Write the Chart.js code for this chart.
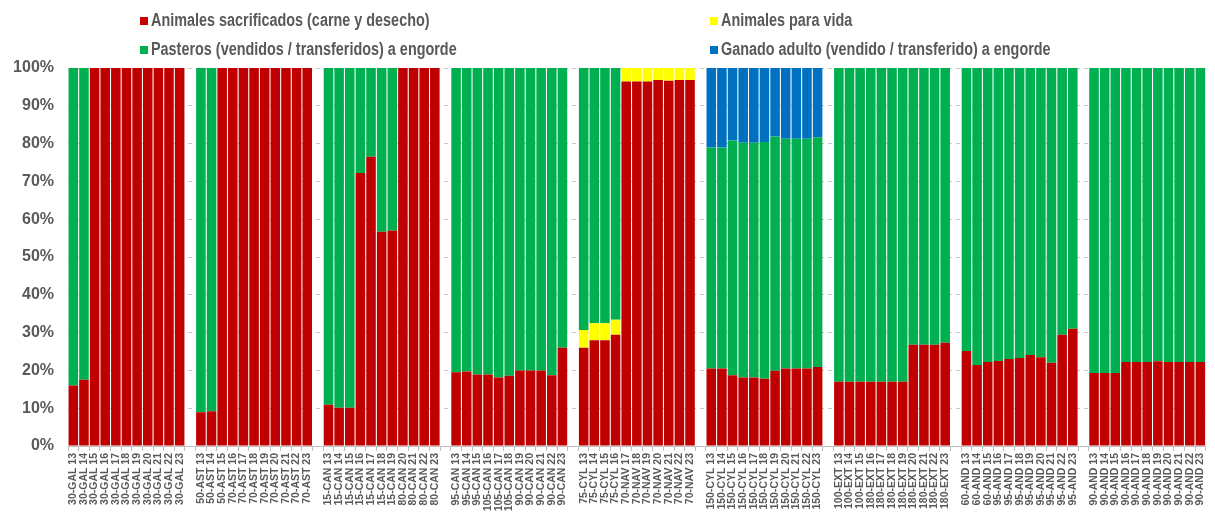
<!DOCTYPE html>
<html>
<head>
<meta charset="utf-8">
<script src="https://cdn.jsdelivr.net/npm/chart.js@4"></script>
<style>
  body { margin: 0; background: #fff; }
  #wrap { position: relative; width: 1215px; height: 518px; }
  .lg-box { position: absolute; width: 8px; height: 8px; }
  .lg-txt { position: absolute; font: bold 18px "Liberation Sans", Arial, sans-serif; line-height: 18px;
            color: #595959; white-space: nowrap; transform: scaleX(0.8); transform-origin: left top; }
</style>
</head>
<body>
<div id="wrap">
  <canvas id="chart"></canvas>
  <div id="legend"></div>
</div>
<script>
// categories ('' = gap between regions)
const categories = [
  "30-GAL 13","30-GAL 14","30-GAL 15","30-GAL 16","30-GAL 17","30-GAL 18","30-GAL 19","30-GAL 20","30-GAL 21","30-GAL 22","30-GAL 23","",
  "50-AST 13","50-AST 14","50-AST 15","70-AST 16","70-AST 17","70-AST 18","70-AST 19","70-AST 20","70-AST 21","70-AST 22","70-AST 23","",
  "15-CAN 13","15-CAN 14","15-CAN 15","15-CAN 16","15-CAN 17","15-CAN 18","15-CAN 19","80-CAN 20","80-CAN 21","80-CAN 22","80-CAN 23","",
  "95-CAN 13","95-CAN 14","95-CAN 15","105-CAN 16","105-CAN 17","105-CAN 18","90-CAN 19","90-CAN 20","90-CAN 21","90-CAN 22","90-CAN 23","",
  "75-CYL 13","75-CYL 14","75-CYL 15","75-CYL 16","70-NAV 17","70-NAV 18","70-NAV 19","70-NAV 20","70-NAV 21","70-NAV 22","70-NAV 23","",
  "150-CYL 13","150-CYL 14","150-CYL 15","150-CYL 16","150-CYL 17","150-CYL 18","150-CYL 19","150-CYL 20","150-CYL 21","150-CYL 22","150-CYL 23","",
  "100-EXT 13","100-EXT 14","100-EXT 15","180-EXT 16","180-EXT 17","180-EXT 18","180-EXT 19","180-EXT 20","180-EXT 21","180-EXT 22","180-EXT 23","",
  "60-AND 13","60-AND 14","60-AND 15","95-AND 16","95-AND 17","95-AND 18","95-AND 19","95-AND 20","95-AND 21","95-AND 22","95-AND 23","",
  "90-AND 13","90-AND 14","90-AND 15","90-AND 16","90-AND 17","90-AND 18","90-AND 19","90-AND 20","90-AND 21","90-AND 22","90-AND 23"
];

// series values (% of total), null in the gaps
const sacrificados = [
  16.0,17.5,100,100,100,100,100,100,100,100,100, null,
  8.9,9.2,100,100,100,100,100,100,100,100,100, null,
  10.9,10.1,10.1,72.2,76.5,56.7,57.0,100,100,100,100, null,
  19.5,19.7,18.9,18.9,18.1,18.6,20.0,20.0,20.0,18.7,26.0, null,
  26.0,28.0,28.0,29.4,96.4,96.4,96.4,96.8,96.6,96.8,96.8, null,
  20.5,20.5,18.7,18.1,18.1,17.8,19.9,20.5,20.5,20.5,20.9, null,
  17.0,17.0,17.0,17.0,17.0,17.0,17.0,26.8,26.8,26.8,27.3, null,
  25.1,21.4,22.2,22.5,23.0,23.3,24.1,23.5,22.0,29.4,31.0, null,
  19.3,19.3,19.3,22.2,22.2,22.2,22.4,22.2,22.2,22.2,22.2
];
const paraVida = [
  0,0,0,0,0,0,0,0,0,0,0, null,
  0,0,0,0,0,0,0,0,0,0,0, null,
  0,0,0,0,0,0,0,0,0,0,0, null,
  0,0,0,0,0,0,0,0,0,0,0, null,
  4.7,4.5,4.5,4.0,3.6,3.6,3.6,3.2,3.4,3.2,3.2, null,
  0,0,0,0,0,0,0,0,0,0,0, null,
  0,0,0,0,0,0,0,0,0,0,0, null,
  0,0,0,0,0,0,0,0,0,0,0, null,
  0,0,0,0,0,0,0,0,0,0,0
];
const pasteros = [
  84.0,82.5,0,0,0,0,0,0,0,0,0, null,
  91.1,90.8,0,0,0,0,0,0,0,0,0, null,
  89.1,89.9,89.9,27.8,23.5,43.3,43.0,0,0,0,0, null,
  80.5,80.3,81.1,81.1,81.9,81.4,80.0,80.0,80.0,81.3,74.0, null,
  69.3,67.5,67.5,66.6,0,0,0,0,0,0,0, null,
  58.5,58.5,62.1,62.1,62.1,62.6,62.0,60.8,60.8,60.8,60.8, null,
  83.0,83.0,83.0,83.0,83.0,83.0,83.0,73.2,73.2,73.2,72.7, null,
  74.9,78.6,77.8,77.5,77.0,76.7,75.9,76.5,78.0,70.6,69.0, null,
  80.7,80.7,80.7,77.8,77.8,77.8,77.6,77.8,77.8,77.8,77.8
];
const ganadoAdulto = [
  0,0,0,0,0,0,0,0,0,0,0, null,
  0,0,0,0,0,0,0,0,0,0,0, null,
  0,0,0,0,0,0,0,0,0,0,0, null,
  0,0,0,0,0,0,0,0,0,0,0, null,
  0,0,0,0,0,0,0,0,0,0,0, null,
  21.0,21.0,19.2,19.8,19.8,19.6,18.1,18.7,18.7,18.7,18.3, null,
  0,0,0,0,0,0,0,0,0,0,0, null,
  0,0,0,0,0,0,0,0,0,0,0, null,
  0,0,0,0,0,0,0,0,0,0,0
];
const yTicks = [0,10,20,30,40,50,60,70,80,90,100];

const seriesNames = [
  "Animales sacrificados (carne y desecho)",
  "Animales para vida",
  "Pasteros (vendidos / transferidos) a engorde",
  "Ganado adulto (vendido / transferido) a engorde"
];
const colors = ['#C00000', '#FFFF00', '#00B050', '#0070C0'];
const seriesData = [sacrificados, paraVida, pasteros, ganadoAdulto];

const FONT = '"Liberation Sans", Arial, sans-serif';
const GREY = '#595959';

let chart = new Chart(document.getElementById('chart'), {
    type: 'bar',
    data: {
        labels: categories,
        datasets: seriesData.map((d, i) => ({
            label: seriesNames[i],
            data: d,
            backgroundColor: colors[i],
            borderWidth: 0,
            barPercentage: 0.9,
            categoryPercentage: 1.0
        }))
    },
    options: {
        responsive: true,
        maintainAspectRatio: false,
        animation: false,
        layout: { padding: { top: 68, right: 5, left: 0, bottom: 0 } },
        plugins: { legend: { display: false }, tooltip: { enabled: false } },
        scales: {
            x: {
                stacked: true,
                grid: { display: true, drawOnChartArea: false, drawTicks: true, tickLength: 5, offset: true, color: '#BFBFBF' },
                border: { display: true, color: '#BFBFBF' },
                ticks: {
                    autoSkip: false, minRotation: 90, maxRotation: 90, padding: 2,
                    color: GREY, font: { family: FONT, size: 10.5, weight: 'bold' }
                },
                afterFit: s => { s.height = 72; }
            },
            y: {
                stacked: true,
                min: 0, max: 100,
                afterBuildTicks: s => { s.ticks = yTicks.map(v => ({ value: v })); },
                grid: { color: '#C8C8C8', drawTicks: false },
                border: { display: false, dash: [4, 4] },
                ticks: {
                    padding: 14, color: GREY,
                    font: { family: FONT, size: 16, weight: 'bold' },
                    callback: v => v + '%'
                },
                afterFit: s => { s.width = 68; }
            }
        }
    }
});

// legend, two columns like the original
const legendPos = [
    { x: 140, y: 17 }, { x: 710, y: 17 },
    { x: 140, y: 46 }, { x: 710, y: 46 }
];
let legend = document.getElementById('legend');
chart.data.datasets.forEach((ds, i) => {
    let p = legendPos[i];
    legend.innerHTML += `<div class="lg-box" style="left:${p.x}px;top:${p.y}px;background:${ds.backgroundColor}"></div>` +
        `<div class="lg-txt" style="left:${p.x + 11}px;top:${p.y - 6}px">${ds.label}</div>`;
});
</script>
</body>
</html>
